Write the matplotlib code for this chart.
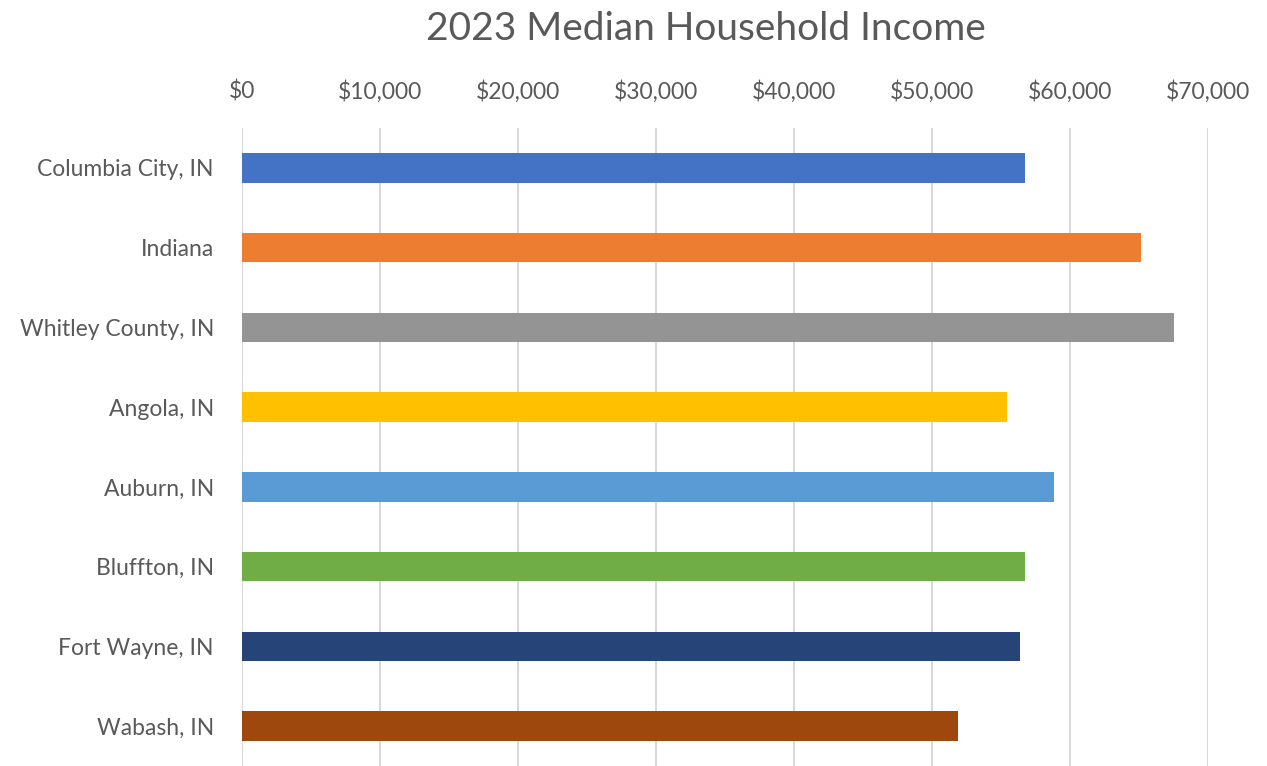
import matplotlib.pyplot as plt
from matplotlib.ticker import FuncFormatter

plt.rcParams["font.family"] = ["Lato", "DejaVu Sans"]

places = ["Columbia City, IN", "Indiana", "Whitley County, IN", "Angola, IN",
          "Auburn, IN", "Bluffton, IN", "Fort Wayne, IN", "Wabash, IN"]
income = [56720, 65120, 67510, 55420, 58820, 56720, 56360, 51870]
colors = ["#4472C4", "#ED7D31", "#949494", "#FFC000",
          "#5B9BD5", "#70AD47", "#264478", "#9E480E"]

text_color = "#595959"
grid_color = "#d9d9d9"

fig = plt.figure(figsize=(12.67, 7.66), dpi=100)
ax = fig.add_axes([0.1908, 0.0, 0.9537 - 0.1908, 0.8329])

ypos = list(range(len(places)))
ax.barh(ypos, income, height=0.37, color=colors, zorder=3)

ax.set_xlim(0, 70000)
ax.set_ylim(len(places) - 0.5, -0.5)
ax.set_xticks(range(0, 70001, 10000))
ax.xaxis.set_major_formatter(FuncFormatter(lambda v, _: f"${v:,.0f}"))
ax.xaxis.tick_top()
ax.set_yticks(ypos)
ax.set_yticklabels(places)

ax.tick_params(axis="x", length=0, pad=18, labelsize=16.5, labelcolor=text_color)
ax.tick_params(axis="y", length=0, pad=20, labelsize=16.5, labelcolor=text_color)
ax.grid(True, axis="x", color=grid_color, linewidth=1.5, zorder=0)
for s in ax.spines.values():
    s.set_visible(False)

fig.text(706 / 1267, 1 - 29 / 766, "2023 Median Household Income",
         ha="center", va="center", fontsize=28, color=text_color)

fig.savefig("out.png", dpi=100)
plt.close(fig)
